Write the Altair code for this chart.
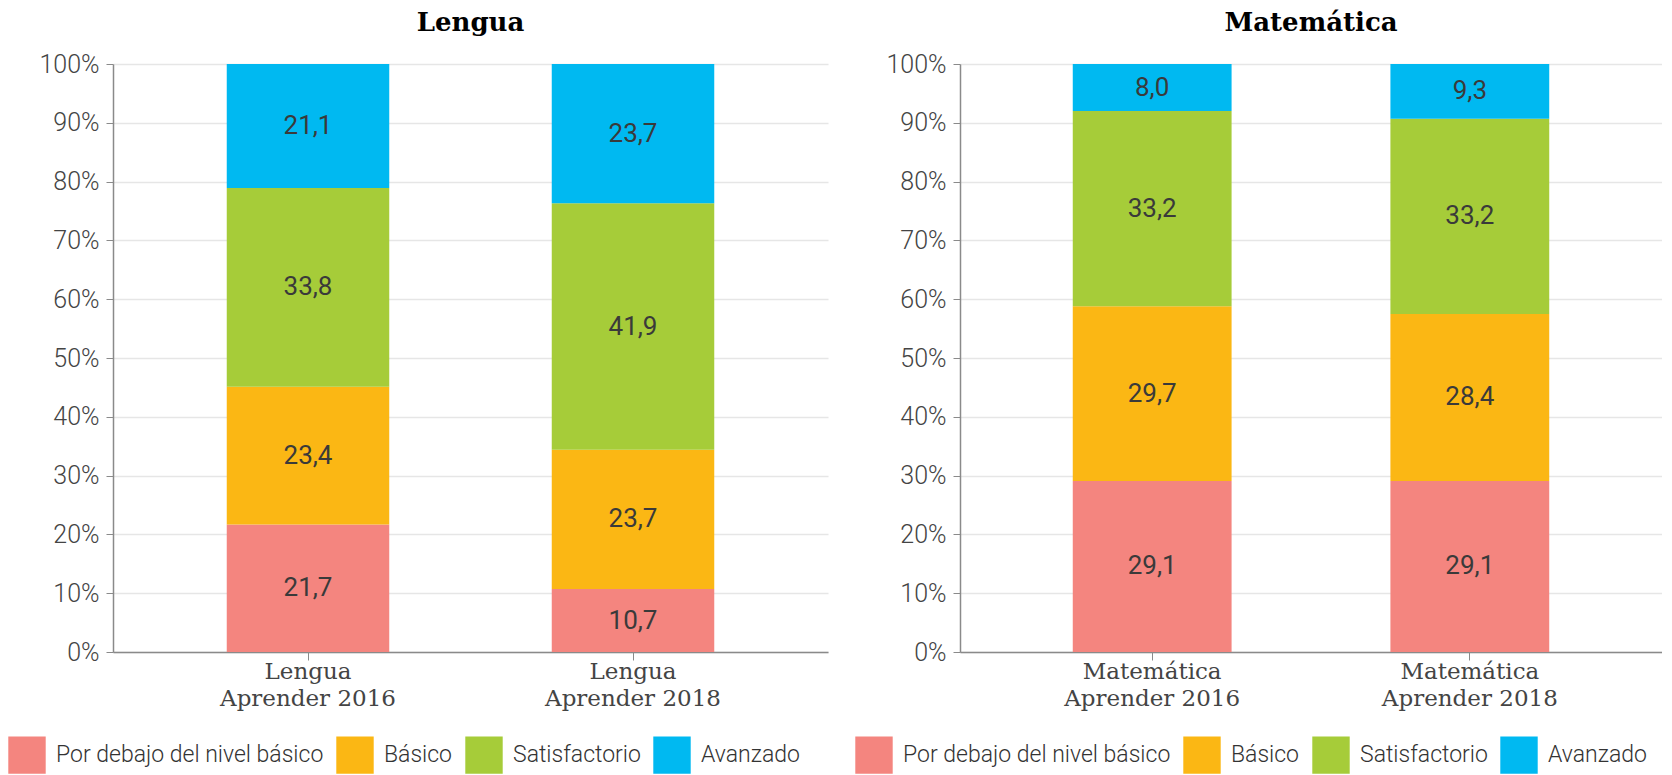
import altair as alt
import pandas as pd

levels = ["Por debajo del nivel básico", "Básico", "Satisfactorio", "Avanzado"]
colors = ["#F4857F", "#FBB714", "#A6CC39", "#00B9F1"]

lengua_cats = ["Lengua\nAprender 2016", "Lengua\nAprender 2018"]
lengua_2016 = [21.7, 23.4, 33.8, 21.1]
lengua_2018 = [10.7, 23.7, 41.9, 23.7]

mate_cats = ["Matemática\nAprender 2016", "Matemática\nAprender 2018"]
mate_2016 = [29.1, 29.7, 33.2, 8.0]
mate_2018 = [29.1, 28.4, 33.2, 9.3]

y_ticks = [0, 10, 20, 30, 40, 50, 60, 70, 80, 90, 100]


def build_df(cats, series):
    rows = []
    for cat, vals in zip(cats, series):
        for i, (lvl, v) in enumerate(zip(levels, vals)):
            rows.append({"cat": cat, "nivel": lvl, "idx": i, "value": v,
                         "label": f"{v:.1f}".replace(".", ",")})
    return pd.DataFrame(rows)


LABEL_FONT = "Roboto"
SLAB = "DejaVu Serif"


def panel(title, cats, series, width, pad_outer):
    df = build_df(cats, series)
    base = alt.Chart(df)
    x = alt.X("cat:N", sort=cats, title=None,
              scale=alt.Scale(paddingInner=0.5, paddingOuter=pad_outer),
              axis=alt.Axis(labelAngle=0, labelExpr="split(datum.label, '\\n')",
                            labelFont=SLAB, labelFontSize=23, labelColor="#444444",
                            labelLineHeight=27, labelPadding=0,
                            domainColor="#8a8a8a", domainWidth=1.5,
                            tickColor="#8a8a8a", tickSize=8, tickWidth=1, grid=False))
    bars = base.mark_bar().encode(
        x=x,
        y=alt.Y("value:Q", stack="zero", title=None,
                scale=alt.Scale(domain=[0, 100], nice=False),
                axis=alt.Axis(values=y_ticks, labelExpr="datum.value + '%'",
                              labelFont=LABEL_FONT, labelFontSize=25, labelFontWeight=300,
                              labelColor="#444444", labelPadding=7,
                              domainColor="#8a8a8a", domainWidth=1.5,
                              tickColor="#8a8a8a", tickSize=7, tickWidth=1,
                              grid=True, gridColor="#e6e6e6", gridWidth=1.5)),
        color=alt.Color("nivel:N", sort=levels,
                        scale=alt.Scale(domain=levels, range=colors),
                        legend=alt.Legend(title=None, orient="none", direction="horizontal",
                                          columns=4, legendX=-105, legendY=672,
                                          symbolType="square", symbolSize=1400,
                                          symbolStrokeWidth=0, symbolOpacity=1,
                                          labelFont=LABEL_FONT, labelFontSize=23,
                                          labelFontWeight=300, labelColor="#333333",
                                          labelOffset=10, columnPadding=12,
                                          labelLimit=400)),
        order=alt.Order("idx:Q", sort="ascending"),
    )
    texts = base.transform_stack(
        stack="value", groupby=["cat"], as_=["v0", "v1"],
        sort=[alt.SortField("idx", order="ascending")]
    ).transform_calculate(mid="(datum.v0 + datum.v1) / 2").mark_text(
        font=LABEL_FONT, fontWeight=400, fontSize=26, color="#3a3a3a", baseline="middle"
    ).encode(
        x=alt.X("cat:N", sort=cats),
        y=alt.Y("mid:Q"),
        text="label:N",
    )
    return alt.layer(bars, texts).properties(
        width=width, height=588,
        title=alt.TitleParams(title, font=SLAB, fontSize=26, fontWeight="bold",
                              color="#000000", anchor="middle", offset=16),
    )


left = panel("Lengua", lengua_cats, [lengua_2016, lengua_2018], 715, 0.35)
right = panel("Matemática", mate_cats, [mate_2016, mate_2018], 702, 0.355)

chart = alt.hconcat(left, right, spacing=27).resolve_legend(color="independent").properties(
    padding={"top": 2, "left": 0, "right": 0, "bottom": 0}
).configure_view(stroke=None)

chart.save("out.html", embed_options={"renderer": "svg", "actions": False})
